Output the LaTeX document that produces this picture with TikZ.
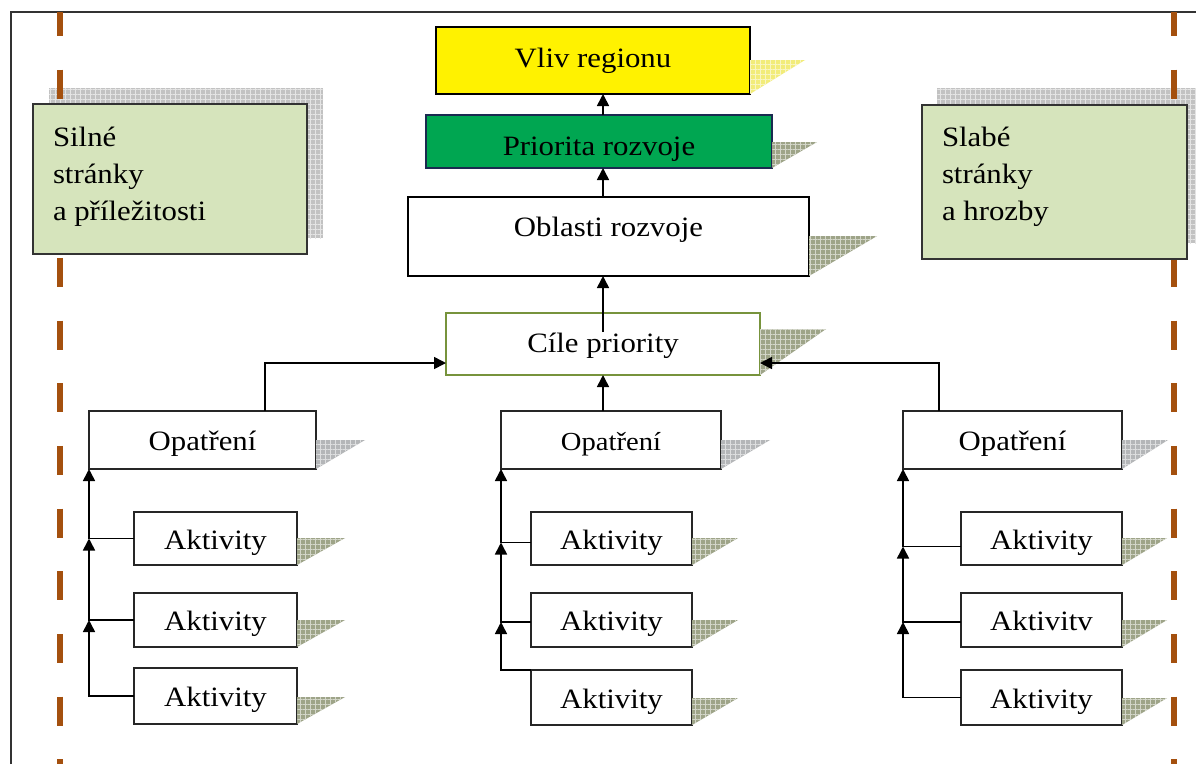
\documentclass[tikz,border=0pt]{standalone}
\usepackage{fontspec}
\setmainfont{Liberation Serif}[FakeStretch=1.1]
\usetikzlibrary{arrows.meta,patterns.meta}
\definecolor{brownd}{HTML}{A4500E}
\definecolor{prigreen}{HTML}{00A651}
\definecolor{navyb}{HTML}{1A2A50}
\definecolor{olivec}{HTML}{77933C}
\definecolor{swotfill}{HTML}{D6E4BC}
\definecolor{shgray}{HTML}{C2C2C2}
\definecolor{shol}{HTML}{9EA488}
\definecolor{shyel}{HTML}{F2EC7A}
\definecolor{shop}{HTML}{B4B6B8}
\tikzset{
  gridfill/.style={
    postaction={pattern={Lines[angle=0,distance=5pt,line width=0.6pt]}, pattern color=white!55!#1},
    postaction={pattern={Lines[angle=90,distance=5pt,line width=0.6pt]}, pattern color=white!55!#1}}
}
\newcommand{\shtri}[4]{%
  \fill[#4, gridfill=#4] (#1.south east) -- ++(0,-#2) -- ++(#3,0) -- cycle;}
\begin{document}
\begin{tikzpicture}[x=1pt,y=-1pt,
  every node/.style={inner sep=0pt, outer sep=0pt},
  tx/.style={font=\fontsize{28}{34}\selectfont},
  box/.style={draw=black!85, line width=1.2pt, fill=white, tx, text height=22pt, text depth=0.5pt},
  swot/.style={draw=black!80, line width=1.3pt, fill=swotfill},
  arr/.style={line width=1.6pt, -{Triangle[width=12pt,length=12pt]}},
  brdash/.style={line width=6pt, draw=brownd, dash pattern=on 29pt off 33.7pt, dash phase=5pt}
]
\useasboundingbox (0,0) rectangle (1196,764);
\fill[white] (0,0) rectangle (1196,764);

% big SWOT shadows
\fill[shgray, gridfill=shgray] (49,88) rectangle (323,238);
\fill[shgray, gridfill=shgray] (937,88) rectangle (1196,243);

% frame
\draw[line width=1.3pt, black!80] (11,764) -- (11,12) -- (1196,12);

% dashed brown lines
\draw[brdash] (60,12) -- (60,764);
\draw[brdash] (1174,12) -- (1174,764);

% SWOT boxes
\node[swot, minimum width=274pt, minimum height=150pt] (sil) at (170,179) {};
\node[tx, anchor=north west, align=left, font=\fontsize{28}{37}\selectfont] (siltx) at (53,127) {Silné\\stránky\\a příležitosti};
\node[swot, minimum width=265pt, minimum height=154pt] (sla) at (1054.5,182) {};
\node[tx, anchor=north west, align=left, font=\fontsize{28}{37}\selectfont] (slatx) at (942,127) {Slabé\\stránky\\a hrozby};

% central column
\node[box, draw=black, fill=yellow, text height=19.5pt, text depth=6pt, minimum width=314pt, minimum height=67pt] (vliv) at (593,60.5) {Vliv regionu};
\node[box, draw=navyb, fill=prigreen, line width=1.5pt, text height=27.5pt, text depth=0pt, minimum width=346pt, minimum height=53pt] (pri) at (599,141.5) {Priorita rozvoje};
\node[box, draw=black, line width=2pt, minimum width=401pt, minimum height=79pt] (obl) at (608.5,236.5) {};
\node[tx] (obltx) at (608.5,230) {Oblasti rozvoje};
\node[box, draw=olivec, line width=1.8pt, text height=19.5pt, text depth=3pt, minimum width=314pt, minimum height=62pt] (cile) at (603,344) {Cíle priority};

\shtri{vliv}{34}{55}{shyel}
\shtri{pri}{26}{45}{shol}
\shtri{obl}{40}{68}{shol}
\shtri{cile}{46}{66}{shol}

% Opatření
\node[box, minimum width=227pt, minimum height=58pt] (op1) at (202.5,440) {Opatření};
\node[box, minimum width=220pt, minimum height=58pt, font=\fontsize{26}{32}\selectfont] (op2) at (611,440) {Opatření};
\node[box, minimum width=219pt, minimum height=58pt] (op3) at (1012.5,440) {Opatření};
\shtri{op1}{29}{49}{shop}
\shtri{op2}{29}{49}{shop}
\shtri{op3}{29}{46}{shop}

% Aktivity
\node[box, minimum width=163pt, minimum height=53pt] (a11) at (215.5,538.5) {Aktivity};
\node[box, minimum width=163pt, minimum height=54pt] (a12) at (215.5,620) {Aktivity};
\node[box, minimum width=163pt, minimum height=56pt] (a13) at (215.5,696) {Aktivity};
\node[box, minimum width=161pt, minimum height=53pt] (a21) at (611.5,538.5) {Aktivity};
\node[box, minimum width=161pt, minimum height=54pt] (a22) at (611.5,620) {Aktivity};
\node[box, minimum width=161pt, minimum height=55pt] (a23) at (611.5,697.5) {Aktivity};
\node[box, minimum width=161pt, minimum height=53pt] (a31) at (1041.5,538.5) {Aktivity};
\node[box, minimum width=161pt, minimum height=54pt] (a32) at (1041.5,620) {Aktivitv};
\node[box, minimum width=161pt, minimum height=55pt] (a33) at (1041.5,697.5) {Aktivity};
\foreach \n/\w in {a11/48,a12/48,a13/48,a21/46,a22/46,a23/46,a31/45,a32/45,a33/45}{\shtri{\n}{27}{\w}{shol}}

% vertical chain
\draw[arr] (pri.north -| cile.north) -- (vliv.south -| cile.north);
\draw[arr] (obl.north -| cile.north) -- (pri.south -| cile.north);
\draw[arr] ([yshift=-19pt]cile.north) -- (obl.south -| cile.north);
\draw[arr] (op2.north -| cile.south) -- (cile.south);
\draw[arr] ([xshift=62.5pt]op1.north) |- ([yshift=-19pt]cile.west);
\draw[arr] ([xshift=-73.5pt]op3.north) |- ([yshift=-19pt]cile.east);

% activity feeds, column 1
\draw[arr] (a13.west) -| (a12.west -| op1.south west);
\draw[arr] (a12.west) -| (a11.west -| op1.south west);
\draw[arr] (a11.west) -| (op1.south west);
% column 2
\draw[arr] (a23.north west) -| ([yshift=-2pt]a22.west -| op2.south west);
\draw[arr] ([yshift=-2pt]a22.west) -| ([yshift=-4pt]a21.west -| op2.south west);
\draw[arr] ([yshift=-4pt]a21.west) -| (op2.south west);
% column 3
\draw[arr] (a33.west) -| ([yshift=-2pt]a32.west -| op3.south west);
\draw[arr] ([yshift=-2pt]a32.west) -| ([yshift=-8pt]a31.west -| op3.south west);
\draw[arr] ([yshift=-8pt]a31.west) -| (op3.south west);
\end{tikzpicture}
\end{document}
